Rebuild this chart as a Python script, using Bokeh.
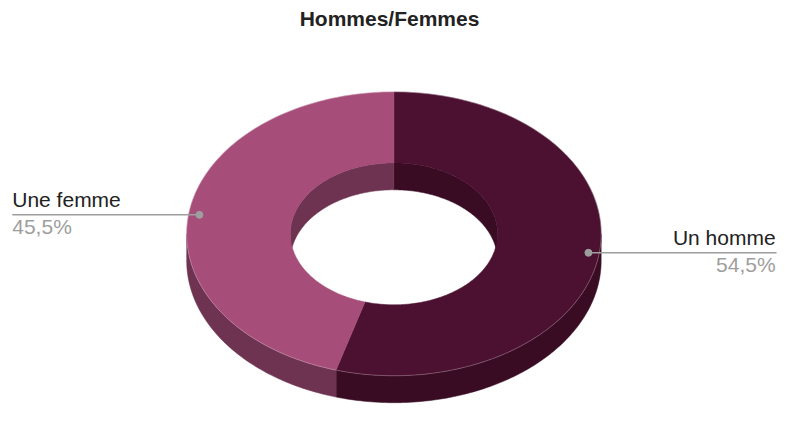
import math
from bokeh.plotting import figure
from bokeh.models import Range1d
from bokeh.core.properties import value
from bokeh.embed import file_html
from bokeh.resources import INLINE

# ---- data ----
title = "Hommes/Femmes"
categories = ["Un homme", "Une femme"]
values = [54.5, 45.5]
pct_labels = ["54,5%", "45,5%"]
top_colors = ["#4c1130", "#a64d79"]
side_colors = ["#390c23", "#6f3352"]

# ---- layout (reference pixel coordinates) ----
W, H = 779, 407
cx, cy = 401.5, 242.5
rx, ry = 211.5, 147.5
hole = 0.5
depth = 28
FONT = "Liberation Sans"
TXT_SHIFT = 9.4  # compensate baseline offset of the text renderer

sx, sy = W / 795.0, H / 423.0

p = figure(width=W, height=H, output_backend="svg", toolbar_location=None,
           x_range=Range1d(0, 795), y_range=Range1d(423, 0),
           min_border=0, outline_line_color=None)
p.axis.visible = False
p.grid.visible = False
p.background_fill_color = "white"


def arc(a0, a1, rxx, ryy, dy=0, n=None):
    if n is None:
        n = max(2, int(abs(a1 - a0) / 1.0) + 2)
    xs, ys = [], []
    for i in range(n):
        t = math.radians(a0 + (a1 - a0) * i / (n - 1))
        xs.append(cx + rxx * math.sin(t))
        ys.append(cy - ryy * math.cos(t) + dy)
    return xs, ys


total = sum(values)
angles = []
acc = 0.0
for v in values:
    a0 = acc / total * 360.0
    acc += v
    a1 = acc / total * 360.0
    angles.append((a0, a1))

irx, iry = rx * hole, ry * hole

# inner walls (visible through the hole: back half, -90..90)
for (a0, a1), col in zip(angles, side_colors):
    for lo, hi in [(-90, 90), (270, 450)]:
        s, e = max(a0, lo), min(a1, hi)
        if e > s:
            x1, y1 = arc(s, e, irx, iry)
            x2, y2 = arc(e, s, irx, iry, depth)
            p.patch(x1 + x2, y1 + y2, fill_color=col, line_color=col, line_width=0.5)

# outer walls (front half, 90..270)
for (a0, a1), col in zip(angles, side_colors):
    s, e = max(a0, 90), min(a1, 270)
    if e > s:
        x1, y1 = arc(s, e, rx, ry)
        x2, y2 = arc(e, s, rx, ry, depth)
        p.patch(x1 + x2, y1 + y2, fill_color=col, line_color=col, line_width=0.5)

# top surfaces
for (a0, a1), col in zip(angles, top_colors):
    x1, y1 = arc(a0, a1, rx, ry)
    x2, y2 = arc(a1, a0, irx, iry)
    p.patch(x1 + x2, y1 + y2, fill_color=col, line_color=col, line_width=0.5)
    p.line(x1, y1, line_color="white", line_alpha=0.35, line_width=0.7)

# labels with leader lines
fs = "%dpx" % round(22 * sy)
for (a0, a1), cat, pct in zip(angles, categories, pct_labels):
    mid = math.radians((a0 + a1) / 2)
    dx = cx + rx * 0.948 * math.sin(mid)
    dyy = cy - ry * 0.948 * math.cos(mid)
    left = math.sin(mid) < 0
    ex = 12 if left else 792
    p.line([dx, ex], [dyy, dyy], line_color="#9e9e9e", line_width=1.5)
    p.scatter([dx], [dyy], size=7, fill_color="#9e9e9e", line_color="#9e9e9e")
    align = "left" if left else "right"
    tx = ex if left else ex - 1
    p.text([tx], [dyy - 6.5 - TXT_SHIFT], text=[cat], text_font=value(FONT),
           text_font_size=fs, text_color="#222222", text_align=align,
           text_baseline="alphabetic")
    p.text([tx], [dyy + 21.5 - TXT_SHIFT], text=[pct], text_font=value(FONT),
           text_font_size=fs, text_color="#9e9e9e", text_align=align,
           text_baseline="alphabetic")

# title
p.text([397], [28.3 - TXT_SHIFT], text=[title], text_font=value(FONT),
       text_font_size=fs, text_font_style="bold", text_color="#222222",
       text_align="center", text_baseline="alphabetic")

open("out.html", "w").write(file_html(p, INLINE))
